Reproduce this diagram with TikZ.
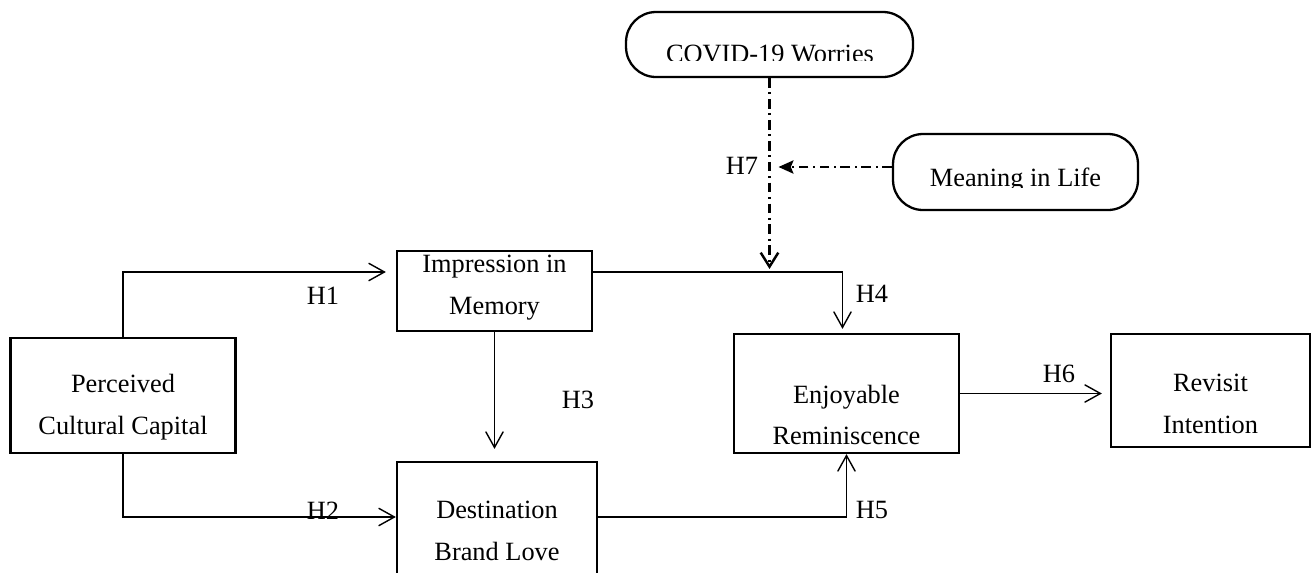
\documentclass[tikz,border=0pt]{standalone}
\usepackage{fontspec}
\setmainfont{Liberation Serif}
\usetikzlibrary{arrows.meta}

\begin{document}
\begin{tikzpicture}[x=0.02cm,y=-0.02cm,line join=miter,
    font=\fontsize{15pt}{23.8pt}\selectfont]
  \tikzset{box/.style={draw,line width=1.3pt,inner sep=0pt},
           pill/.style={draw,line width=1.3pt,rounded corners=0.6cm,inner sep=0pt},
           txt/.style={align=center,inner sep=0pt},
           conn/.style={line width=0.8pt,-{Straight Barb[length=9pt,width=10pt]}},
           moder/.style={line width=1.4pt,dash pattern=on 5.5pt off 2.6pt on 1.2pt off 2.6pt}}
  \clip (0,0) rectangle (1313,572);
  % constructs
  \node[box,minimum width=4.5cm,minimum height=2.3cm] (pcc) at (123,395.5) {};
  \node[txt] (pcctxt) at (123,407) {Perceived\\Cultural Capital};
  \node[box,minimum width=3.9cm,minimum height=1.6cm] (imp) at (494.5,291) {};
  \node[txt] (imptxt) at (494.5,288) {Impression in\\Memory};
  \node[box,minimum width=4cm,minimum height=2.8cm] (dest) at (497,532) {};
  \node[txt] (desttxt) at (497,531) {Destination\\Brand Love};
  \node[box,minimum width=4.5cm,minimum height=2.38cm] (enj) at (846.5,393.5) {};
  \node[txt] (enjtxt) at (846.5,415) {Enjoyable\\Reminiscence};
  \node[box,minimum width=3.98cm,minimum height=2.26cm] (rev) at (1210.5,390.5) {};
  \node[txt] (revtxt) at (1210.5,404) {Revisit\\Intention};
  % moderators
  \node[pill,minimum width=5.74cm,minimum height=1.3cm] (covid) at (769.5,44.5) {};
  \begin{scope}
    \clip (626,12) rectangle (913,60);
    \node[txt,anchor=base] (covidtxt) at (770,62) {COVID-19 Worries};
  \end{scope}
  \node[pill,minimum width=4.9cm,minimum height=1.52cm] (ml) at (1015.5,172) {};
  \begin{scope}
    \clip (893,134) rectangle (1138,187);
    \node[txt,anchor=base] (mltxt) at (1015.5,186) {Meaning in Life};
  \end{scope}
  % rails
  \coordinate (railA) at (0,272);
  \coordinate (railB) at (0,517);
  % paths
  \draw[conn,shorten >=0.2cm] (pcc.north) |- (imp.west |- railA);
  \draw[conn] (pcc.south) |- (dest.west |- railB);
  \draw[conn,shorten >=0.24cm] (imp.south) -- (imp.south |- dest.north);
  \draw[conn,shorten >=0.08cm] (imp.east |- railA) -| ([xshift=-0.08cm]enj.north);
  \draw[conn] (dest.east |- railB) -| (enj.south);
  \draw[conn,shorten >=0.16cm] (enj.east) -- (enj.east -| rev.west);
  \draw[moder,-{Straight Barb[length=8pt,width=10pt]},shorten >=0.06cm] (covid.south) -- (covid.south |- railA);
  \draw[moder,-{Stealth[length=8.5pt,width=7.5pt,inset=1.5pt]},shorten >=0.18cm] ([yshift=0.1cm]ml.west) -- ([yshift=0.1cm]ml.west -| covid.south);
  % labels
  \node (h1) at (323,296) {H1};
  \node (h2) at (323,511) {H2};
  \node (h3) at (578,400) {H3};
  \node (h4) at (872,294) {H4};
  \node (h5) at (872,510) {H5};
  \node (h6) at (1059,374) {H6};
  \node (h7) at (742,166) {H7};
\end{tikzpicture}
\end{document}
